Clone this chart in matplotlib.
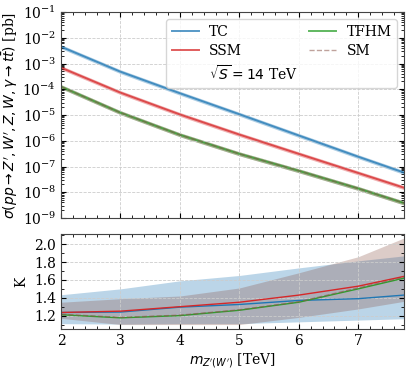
import numpy as np
import matplotlib
matplotlib.use("Agg")
import matplotlib.pyplot as plt
from matplotlib.ticker import AutoMinorLocator, LogLocator, NullFormatter

plt.rcParams['font.family'] = ['DejaVu Serif']
plt.rcParams['mathtext.fontset'] = 'dejavusans'

# ---- data ----
masses = [2, 3, 4, 5, 6, 7, 7.77]

xs_tc   = [4.5e-3, 4.8e-4, 7.0e-5, 1.07e-5, 1.6e-6, 2.4e-7, 5.8e-8]
xs_ssm  = [6.9e-4, 7.4e-5, 1.05e-5, 1.74e-6, 3.1e-7, 5.6e-8, 1.5e-8]
xs_tfhm = [1.26e-4, 1.23e-5, 1.7e-6, 3.1e-7, 6.8e-8, 1.4e-8, 3.8e-9]
xs_sm   = [1.26e-4, 1.23e-5, 1.7e-6, 3.1e-7, 6.8e-8, 1.4e-8, 3.8e-9]
xs_band_lo = 0.84
xs_band_hi = 1.2

k_tc   = [1.235, 1.24, 1.295, 1.325, 1.37, 1.39, 1.43]
k_ssm  = [1.235, 1.25, 1.30, 1.35, 1.43, 1.53, 1.64]
k_tfhm = [1.21, 1.175, 1.20, 1.26, 1.35, 1.50, 1.62]
k_sm   = [1.215, 1.18, 1.205, 1.265, 1.355, 1.51, 1.63]
k_tc_lo = [1.11, 1.105, 1.11, 1.11, 1.13, 1.15, 1.165]
k_tc_hi = [1.434, 1.50, 1.59, 1.65, 1.735, 1.814, 1.87]
k_sm_lo = [1.17, 1.10, 1.10, 1.10, 1.18, 1.275, 1.36]
k_sm_hi = [1.35, 1.39, 1.42, 1.51, 1.68, 1.86, 2.07]

labels = ['TC', 'SSM', 'TFHM', 'SM']
colors = ['tab:blue', 'tab:red', 'tab:green', 'tab:brown']
energy_label = r'$\sqrt{S}=14$ TeV'

W, H = 411, 370
fig = plt.figure(figsize=(W / 100, H / 100), dpi=100)
ax1 = fig.add_axes([61 / W, 1 - 218 / H, 343 / W, 206 / H])
ax2 = fig.add_axes([61 / W, 1 - 329 / H, 343 / W, 95 / H], sharex=ax1)

m = np.array(masses)
series = [xs_tc, xs_ssm, xs_tfhm, xs_sm]
handles = []
for ys, lab, c in zip(series, labels, colors):
    ys = np.array(ys)
    ax1.fill_between(m, ys * xs_band_lo, ys * xs_band_hi, color=c, alpha=0.35, lw=0)
    if lab == 'SM':
        h, = ax1.plot(m, ys, color=c, lw=1.0, ls='--', alpha=0.55, label=lab)
    else:
        h, = ax1.plot(m, ys, color=c, lw=1.4, alpha=0.75, label=lab)
    handles.append(h)

dummy, = ax1.plot([], [], ' ', label=energy_label)
leg = ax1.legend([handles[0], handles[1], dummy, handles[2], handles[3]],
                 ['TC', 'SSM', energy_label, 'TFHM', 'SM'],
                 ncol=2, loc='upper right', fontsize=10,
                 bbox_to_anchor=(0.98, 0.966), borderaxespad=0.0,
                 columnspacing=0.8, handlelength=1.95, handletextpad=0.75,
                 labelspacing=0.4, borderpad=0.4)

ax1.set_yscale('log')
ax1.set_ylim(1e-9, 1e-1)
ax1.set_xlim(2, 7.77)
ax1.yaxis.set_major_locator(LogLocator(base=10, numticks=20))
ax1.yaxis.set_minor_locator(LogLocator(base=10, subs=np.arange(2, 10), numticks=20))
ax1.yaxis.set_minor_formatter(NullFormatter())
ax1.set_ylabel(r"$\sigma(pp\rightarrow Z^{\prime},W^{\prime},Z,W,\gamma\rightarrow t\bar{t})$ [pb]",
               fontsize=10, labelpad=2)
ax1.tick_params(labelbottom=False)

# bottom panel
ax2.fill_between(m, k_tc_lo, k_tc_hi, color='tab:blue', alpha=0.3, lw=0)
ax2.fill_between(m, k_sm_lo, k_sm_hi, color='tab:brown', alpha=0.3, lw=0)
ax2.plot(m, k_tc, color='tab:blue', lw=1.0)
ax2.plot(m, k_ssm, color='tab:red', lw=1.0)
ax2.plot(m, k_tfhm, color='tab:green', lw=1.0)
ax2.plot(m, k_sm, color='tab:brown', lw=1.0, ls='--', alpha=0.6)
ax2.set_ylim(1.05, 2.115)
ax2.set_yticks([1.2, 1.4, 1.6, 1.8, 2.0])
ax2.set_ylabel('K', fontsize=10)
ax2.set_xlabel(r"$m_{Z^{\prime}(W^{\prime})}$ [TeV]", fontsize=10, labelpad=2)
ax2.yaxis.set_minor_locator(AutoMinorLocator(2))
ax2.xaxis.set_minor_locator(AutoMinorLocator(5))

for ax in (ax1, ax2):
    ax.grid(True, which='major', ls='--', color='#cccccc', lw=0.6)
    ax.tick_params(which='both', direction='in', top=True, right=True, labelsize=10)
    ax.tick_params(which='major', length=3.5)
    ax.tick_params(which='minor', length=2)
    for s in ax.spines.values():
        s.set_color('#444444')

fig.savefig('out.png', dpi=100)
